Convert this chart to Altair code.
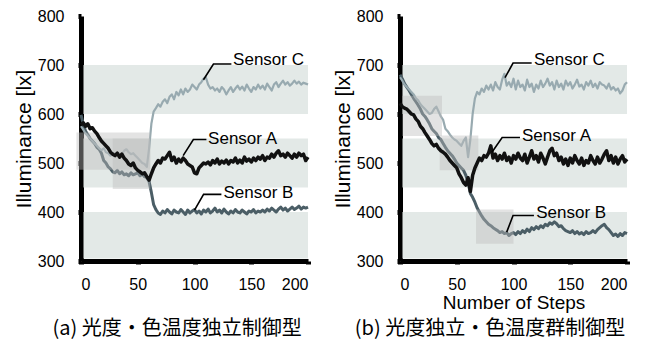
import altair as alt
import pandas as pd

steps = list(range(0, 201, 2))

# ---- Panel (a) ----
a_A = [578, 582, 575, 580, 570, 572, 565, 560, 552, 545,
       540, 535, 530, 522, 518, 515, 520, 512, 518, 510,
       505, 498, 495, 500, 490, 485, 482, 478, 480, 472,
       465, 478, 490, 498, 505, 500, 510, 508, 515, 522,
       505, 512, 500, 508, 502, 510, 505, 498, 495, 492,
       480, 478, 490, 495, 500, 498, 502, 496, 505, 500,
       508, 498, 504, 500, 506, 498, 505, 502, 510, 500,
       506, 500, 512, 504, 508, 502, 510, 505, 512, 508,
       515, 505, 512, 510, 518, 512, 520, 525, 515, 518,
       512, 520, 515, 510, 518, 512, 520, 515, 518, 505,
       512]
a_B = [598, 580, 565, 558, 550, 545, 540, 532, 528, 520,
       505, 500, 492, 488, 482, 480, 485, 478, 482, 476,
       478, 474, 480, 476, 478, 480, 474, 478, 472, 470,
       462, 440, 415, 405, 398, 395, 402, 398, 405, 400,
       396, 404, 400, 398, 405, 400, 395, 404, 398, 402,
       405, 398, 402, 396, 404, 400, 406, 398, 402, 408,
       400, 404, 398, 406, 400, 396, 402, 398, 405, 400,
       398, 404, 400, 396, 402, 400, 405, 398, 402, 400,
       404, 400, 406, 402, 408, 404, 400, 406, 410, 404,
       408, 402, 406, 410, 405, 408, 412, 406, 410, 408,
       410]
a_C = [575, 568, 560, 555, 550, 545, 540, 535, 530, 526,
       530, 522, 520, 515, 518, 520, 515, 512, 518, 525,
       528, 522, 518, 520, 515, 510, 505, 500, 498, 492,
       530, 580, 605, 612, 620, 615, 625, 630, 622, 635,
       640, 630, 645, 638, 650, 640, 652, 645, 650, 660,
       655, 650, 660, 665, 672, 675, 660, 652, 655, 648,
       652, 645, 655, 650, 640, 648, 655, 645, 652, 658,
       650, 656, 648, 660, 652, 645, 655, 650, 660, 652,
       658, 650, 662, 655, 648, 660, 665, 655, 662, 668,
       660, 665, 658, 662, 668, 662, 666, 660, 664, 662,
       660]

# ---- Panel (b) ----
b_A = [622, 615, 612, 610, 605, 600, 598, 590, 585, 575,
       570, 562, 555, 548, 540, 535, 538, 530, 525, 522,
       518, 512, 505, 500, 495, 490, 478, 470, 460, 455,
       470, 442, 475, 490, 500, 510, 505, 515, 512, 520,
       535, 510, 518, 505, 515, 508, 520, 505, 512, 500,
       515, 508, 520, 510, 505, 518, 500, 512, 525, 508,
       515, 502, 520, 510, 498, 512, 525, 530, 515, 520,
       505, 512, 498, 508, 495, 510, 500, 515, 505, 498,
       510, 495, 505, 500, 515, 505, 498, 512, 500, 508,
       518, 525, 505, 515, 500, 512, 498, 508, 515, 502,
       508]
b_B = [680, 672, 662, 655, 648, 640, 632, 625, 618, 610,
       600, 595, 588, 580, 570, 565, 560, 552, 548, 540,
       532, 525, 520, 515, 508, 500, 495, 490, 485, 475,
       460, 438, 430, 420, 408, 400, 392, 385, 380, 375,
       372, 368, 365, 362, 358, 360, 356, 358, 352, 356,
       358, 354, 360, 356, 362, 358, 365, 360, 368, 364,
       370, 366, 372, 368, 375, 372, 378, 375, 380, 376,
       370, 372, 366, 362, 360, 358, 362, 356, 360, 355,
       358, 354, 360, 356, 358, 362, 358, 364, 368, 372,
       375, 368, 364, 358, 352, 355, 350, 356, 352, 358,
       356]
b_C = [675, 668, 660, 655, 650, 645, 640, 632, 628, 620,
       615, 610, 605, 600, 602, 610, 615, 605, 595, 588,
       570, 565, 558, 552, 548, 545, 540, 535, 545, 552,
       512, 548, 600, 632, 645, 640, 652, 645, 658, 650,
       660, 648, 665, 655, 650, 670, 682, 658, 665, 655,
       672, 650, 668, 655, 660, 648, 670, 655, 662, 645,
       660, 652, 668, 655, 662, 672, 658, 665, 650, 668,
       655, 662, 650, 668, 658, 665, 652, 660, 670, 656,
       660, 650, 665, 658, 668, 655, 662, 652, 665, 660,
       658, 652, 662, 650, 655, 648, 652, 642, 648, 660,
       665]

# target bands (lx)
band_lo = [600, 450, 300]
band_hi = [700, 550, 400]

# highlight boxes: step from/to, lx from/to
a_box_x0 = [-4, 28]
a_box_x1 = [61, 61]
a_box_y0 = [486, 447]
a_box_y1 = [562, 550]
b_box_x0 = [2, 35, 67]
b_box_x1 = [37, 69, 100]
b_box_y0 = [555, 485, 335]
b_box_y1 = [637, 556, 405]

# annotation labels
sensors = ["Sensor C", "Sensor A", "Sensor B"]
a_lab_x = [134, 112, 125.5]
a_lab_y = [711, 548, 438]
a_lead_x = [[132.5, 116.7, 107.9], [110.5, 99, 90], [123.7, 108, 100]]
a_lead_y = [[702, 702, 670], [548, 548, 515], [436, 436, 404]]
b_lab_x = [118, 107.5, 120]
b_lab_y = [711, 556, 398]
b_lead_x = [[116, 99.6, 92.5], [105.7, 90, 81], [118, 99.6, 94]]
b_lead_y = [[704, 704, 674], [552, 552, 522], [393, 393, 359]]

x_ticks = [0, 50, 100, 150, 200]
y_ticks = [300, 400, 500, 600, 700, 800]
X_MIN, X_MAX, Y_MIN, Y_MAX = 0, 200, 300, 800

captions = ["(a) 光度・色温度独立制御型", "(b) 光度独立・色温度群制御型"]

W, H = 227, 245
COL_A, COL_B, COL_C = "#111111", "#4b5e66", "#98aab0"
BAND = "#e3e9e7"
FONT = "Liberation Sans"
AXIS_W = 5
# keep the band fills clear of the thick axis lines (half the axis width, in data units)
X_GAP = (AXIS_W / 2) * (X_MAX - X_MIN) / W
Y_GAP = (AXIS_W / 2) * (Y_MAX - Y_MIN) / H


def panel(A, B, C, bx0, bx1, by0, by1, lab_x, lab_y, lead_x, lead_y, caption, cap_dx, xtitle):
    df = pd.DataFrame({"step": steps, "A": A, "B": B, "C": C})
    xs = alt.Scale(domain=[X_MIN, X_MAX], nice=False, zero=False)
    ys = alt.Scale(domain=[Y_MIN, Y_MAX], nice=False, zero=False)
    if xtitle:
        xaxis = alt.Axis(values=x_ticks, title=xtitle, titleFontSize=19, titlePadding=1)
    else:
        xaxis = alt.Axis(values=x_ticks, title=None)
    yaxis = alt.Axis(values=y_ticks, title="Illuminance [lx]", titleFontSize=21, titlePadding=3)

    lo = [max(v, Y_MIN + Y_GAP) for v in band_lo]
    bands = pd.DataFrame({"lo": lo, "hi": band_hi,
                          "x0": [X_MIN + X_GAP] * 3, "x1": [X_MAX] * 3})
    band_layer = alt.Chart(bands).mark_rect(color=BAND).encode(
        x=alt.X("x0:Q", scale=xs, axis=xaxis),
        x2="x1:Q",
        y=alt.Y("lo:Q", scale=ys, axis=yaxis),
        y2="hi:Q",
    )

    def line(col, color, width):
        return alt.Chart(df).mark_line(color=color, strokeWidth=width, strokeJoin="round").encode(
            x=alt.X("step:Q", scale=xs), y=alt.Y(f"{col}:Q", scale=ys)
        )

    boxes = pd.DataFrame({"x0": bx0, "x1": bx1, "y0": by0, "y1": by1})
    box_layer = alt.Chart(boxes).mark_rect(color="#bdbdbd", opacity=0.42).encode(
        x=alt.X("x0:Q", scale=xs), x2="x1:Q", y=alt.Y("y0:Q", scale=ys), y2="y1:Q"
    )

    rows = []
    for i, s in enumerate(sensors):
        for j in range(3):
            rows.append({"s": s, "o": j, "x": lead_x[i][j], "y": lead_y[i][j]})
    leads = pd.DataFrame(rows)
    lead_layer = alt.Chart(leads).mark_line(color="black", strokeWidth=1.6).encode(
        x=alt.X("x:Q", scale=xs), y=alt.Y("y:Q", scale=ys), detail="s:N", order="o:Q"
    )
    labs = pd.DataFrame({"s": sensors, "x": lab_x, "y": lab_y})
    lab_layer = alt.Chart(labs).mark_text(align="left", baseline="middle", font=FONT, fontSize=17, color="black").encode(
        x=alt.X("x:Q", scale=xs), y=alt.Y("y:Q", scale=ys), text="s:N"
    )
    cap = alt.Chart(pd.DataFrame({"t": [caption]})).mark_text(
        align="center", baseline="middle", font="Noto Sans CJK JP", fontSize=20, color="black"
    ).encode(text="t:N", x=alt.value(cap_dx), y=alt.value(H + 68))

    return alt.layer(
        band_layer,
        line("B", COL_B, 3),
        line("C", COL_C, 2.2),
        box_layer,
        line("A", COL_A, 3.5),
        lead_layer,
        lab_layer,
        cap,
    ).properties(width=W, height=H)


left = panel(a_A, a_B, a_C, a_box_x0, a_box_x1, a_box_y0, a_box_y1,
             a_lab_x, a_lab_y, a_lead_x, a_lead_y, captions[0], 96, None)
right = panel(b_A, b_B, b_C, b_box_x0, b_box_x1, b_box_y0, b_box_y1,
              b_lab_x, b_lab_y, b_lead_x, b_lead_y, captions[1], 90, "Number of Steps")

chart = alt.hconcat(left, right, spacing=21).properties(
    padding={"left": 5, "top": 0, "right": 0, "bottom": 4}
).configure_view(stroke=None).configure_axis(
    domainColor="black", domainWidth=AXIS_W, tickColor="black", tickWidth=5, tickSize=3,
    labelFont=FONT, labelFontSize=16, labelColor="black",
    titleFont=FONT, titleFontWeight="normal", titleColor="black", grid=False, zindex=1,
).configure_axisX(labelPadding=12).configure_axisY(labelPadding=14)

chart.save("out.html", embed_options={"renderer": "svg", "actions": False})
